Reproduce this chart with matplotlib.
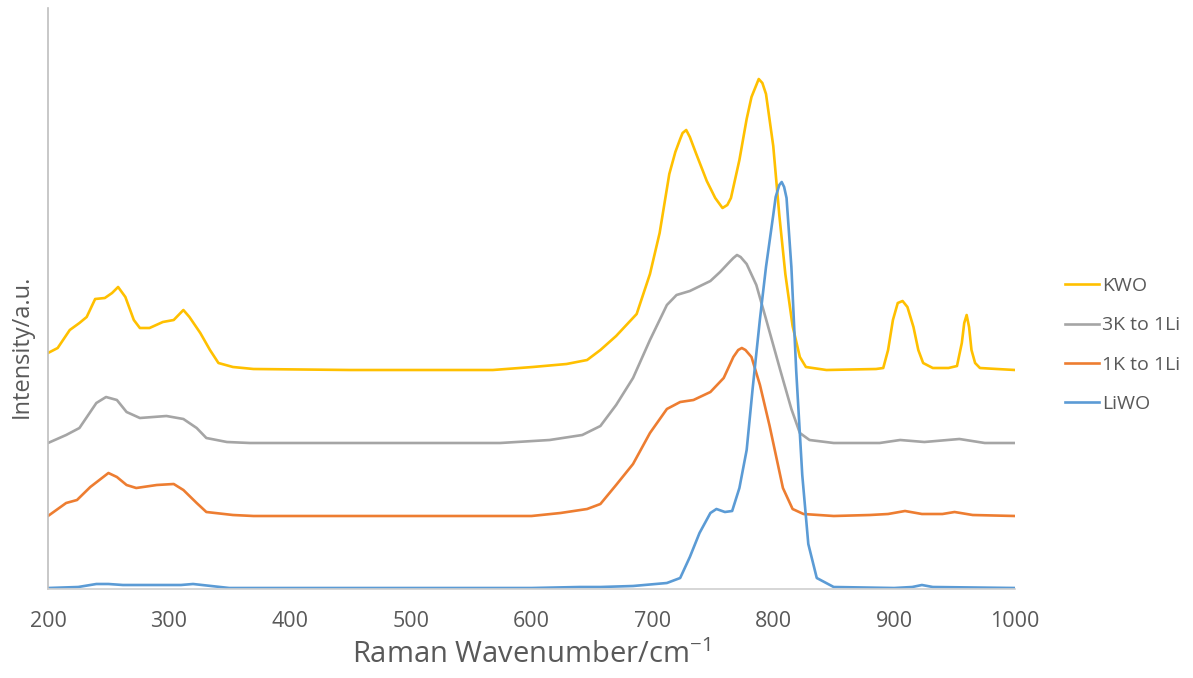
import matplotlib
matplotlib.use('Agg')
import matplotlib.pyplot as plt

plt.rcParams['font.family'] = ['Open Sans', 'DejaVu Sans']

# --------------------------------------------------------------------------------------------------------------------
# Data (intensity in arbitrary units):
# --------------------------------------------------------------------------------------------------------------------

kwo_x = [200, 208, 218, 226, 232, 239, 247, 253, 258, 264, 271, 276, 284, 295, 304, 312, 317, 326, 334, 341,
         353, 370, 450, 568, 601, 629, 646, 657, 670, 687, 698, 706, 714, 719, 723, 725, 728, 731, 736, 745,
         752, 758, 762, 765, 772, 778, 782, 785, 788, 791, 794, 800, 805, 810, 816, 822, 827, 844, 885, 891,
         895, 899, 903, 907, 911, 916, 920, 924, 932, 945, 952, 956, 958, 960, 962, 964, 967, 971, 985, 1000]
kwo_y = [236, 241, 259, 266, 272, 290, 291, 296, 302, 292, 269, 261, 261, 267, 269, 279, 272, 256, 239, 226,
         222, 220, 219, 219, 222, 225, 229, 239, 253, 275, 315, 356, 415, 437, 450, 456, 459, 452, 436, 408,
         391, 381, 384, 391, 429, 470, 492, 501, 510, 506, 495, 443, 374, 315, 263, 232, 222, 219, 220, 221,
         239, 269, 286, 288, 282, 262, 239, 226, 221, 221, 223, 246, 266, 274, 262, 239, 226, 221, 220, 219]

k3li1_x = [200, 215, 226, 240, 248, 257, 265, 276, 298, 312, 323, 331, 348, 367, 450, 574, 615, 642, 657, 670,
           684, 698, 712, 720, 731, 748, 756, 763, 767, 770, 773, 778, 786, 794, 806, 815, 822, 830, 850, 888,
           905, 925, 954, 975, 1000]
k3li1_y = [146, 154, 161, 186, 192, 189, 177, 171, 173, 170, 161, 151, 147, 146, 146, 146, 149, 154, 163, 184,
           211, 249, 284, 294, 298, 308, 317, 326, 331, 334, 332, 325, 304, 270, 218, 180, 156, 149, 146, 146,
           149, 147, 150, 146, 146]

k1li1_x = [200, 215, 224, 235, 250, 257, 265, 273, 290, 304, 312, 323, 331, 353, 370, 600, 624, 646, 657, 670,
           684, 698, 712, 723, 734, 748, 759, 767, 771, 774, 777, 782, 789, 797, 808, 816, 825, 850, 880, 895,
           909, 923, 940, 950, 965, 1000]
k1li1_y = [73, 86, 89, 102, 116, 112, 104, 101, 104, 105, 99, 86, 77, 74, 73, 73, 76, 80, 85, 104,
           125, 156, 180, 187, 189, 197, 211, 232, 239, 241, 239, 232, 204, 163, 101, 80, 75, 73, 74, 75,
           78, 75, 75, 77, 74, 73]

liwo_x = [200, 225, 240, 250, 262, 290, 310, 320, 335, 350, 500, 600, 640, 657, 684, 712, 723, 731, 739, 748,
          753, 760, 766, 772, 778, 783, 789, 794, 800, 802, 805, 807, 809, 811, 815, 819, 824, 829, 836, 850,
          900, 915, 923, 932, 1000]
liwo_y = [1, 2, 5, 5, 4, 4, 4, 5, 3, 1, 1, 1, 2, 2, 3, 6, 11, 32, 56, 76,
          80, 77, 78, 101, 139, 201, 270, 322, 374, 392, 404, 407, 402, 391, 322, 218, 114, 45, 11, 2,
          1, 2, 4, 2, 1]

x_ticks = [200, 300, 400, 500, 600, 700, 800, 900, 1000]

# --------------------------------------------------------------------------------------------------------------------
# Plot:
# --------------------------------------------------------------------------------------------------------------------

txt = '#595959'
fig = plt.figure(figsize=(11.93, 6.78), dpi=100)
ax = fig.add_axes([48 / 1193, 89 / 678, 967 / 1193, 581 / 678])

ax.plot(kwo_x, kwo_y, color='#FFC000', lw=1.9, label='KWO')
ax.plot(k3li1_x, k3li1_y, color='#A5A5A5', lw=1.9, label='3K to 1Li')
ax.plot(k1li1_x, k1li1_y, color='#ED7D31', lw=1.9, label='1K to 1Li')
ax.plot(liwo_x, liwo_y, color='#5B9BD5', lw=1.9, label='LiWO')

ax.set_xlim(200, 1000)
ax.set_ylim(0, 581)
ax.set_xticks(x_ticks)
ax.set_yticks([])
ax.tick_params(axis='x', length=0, pad=16, labelsize=15.5, labelcolor=txt)

for s in ['top', 'right']:
    ax.spines[s].set_visible(False)
ax.spines['left'].set_color('#BFBFBF')
ax.spines['bottom'].set_color('#D0D0D0')
ax.spines['left'].set_linewidth(1.2)
ax.spines['bottom'].set_linewidth(1.2)

ax.set_xlabel('Raman Wavenumber/cm$^{\\mathregular{-1}}$', fontsize=21, color=txt, labelpad=6)
fig.text(22 / 1193, 1 - 346 / 678, 'Intensity/a.u.', rotation=90, ha='center', va='center',
         fontsize=17, color=txt)

ax.legend(loc='center left', bbox_to_anchor=(1065 / 1193, 1 - 345 / 678), bbox_transform=fig.transFigure,
          frameon=False, fontsize=14, handlelength=1.75, handletextpad=0.15, labelspacing=1.1,
          borderaxespad=0, borderpad=0, labelcolor=txt)

fig.savefig('out.png', dpi=100)
